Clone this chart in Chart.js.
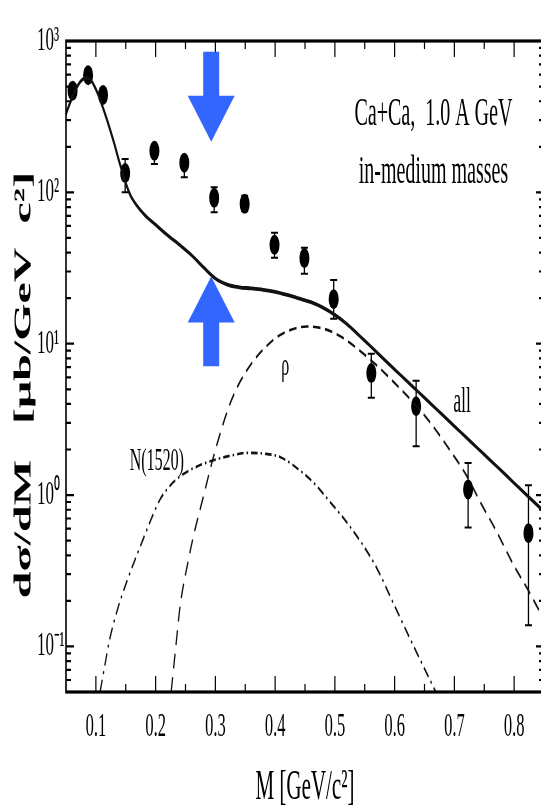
<!DOCTYPE html>
<html>
<head>
<meta charset="utf-8">
<script src="https://cdn.jsdelivr.net/npm/chart.js@4.4.1/dist/chart.umd.min.js"></script>
<style>
html, body { margin: 0; padding: 0; overflow: hidden; background: #fff; }
/* la figura original esta comprimida en horizontal: se dibuja ancha y se aplasta */
#wrap { width: 1100px; height: 809px; transform: scaleX(0.5); transform-origin: 0 0; }
</style>
</head>
<body>
<div id="wrap"><canvas id="grafico" width="1100" height="809"></canvas></div>
<script>
// Datos experimentales
const masas = [0.061, 0.087, 0.112, 0.149, 0.198, 0.248, 0.298, 0.349, 0.399, 0.449, 0.498, 0.561, 0.636, 0.723, 0.824];
const secciones = [470, 594, 440, 134, 188, 157, 92, 84, 45, 36.8, 19.7, 6.4, 3.86, 1.09, 0.56];
const errorAlto = [520, 650, 485, 166, 200, 170, 108, 95, 54, 43, 26.4, 8.6, 5.7, 1.63, 1.16];
const errorBajo = [425, 545, 400, 100, 154, 126, 74, 75, 37, 29, 14.6, 4.4, 2.1, 0.61, 0.138];

// Curva total "all"
const allX = [0.05, 0.06, 0.07, 0.08, 0.09, 0.10, 0.11, 0.12, 0.13, 0.14, 0.15, 0.16, 0.18, 0.20, 0.22, 0.24, 0.26, 0.28, 0.30, 0.32, 0.34, 0.36, 0.38, 0.40, 0.42, 0.44, 0.46, 0.48, 0.50, 0.52, 0.54, 0.56, 0.58, 0.60, 0.62, 0.64, 0.66, 0.68, 0.70, 0.72, 0.74, 0.76, 0.78, 0.80, 0.82, 0.85];
const allY = [330, 420, 510, 565, 560, 480, 380, 290, 215, 155, 115, 92, 72, 61, 52, 45, 38.5, 32, 27, 24.6, 23.6, 23.2, 22.7, 22, 21, 19.9, 18.8, 17.3, 15.5, 13.5, 11.4, 9.6, 8.04, 6.76, 5.69, 4.79, 4.03, 3.39, 2.85, 2.4, 2.02, 1.7, 1.43, 1.2, 1.01, 0.78];

// Curva rho (rayas)
const rhoX = [0.226, 0.235, 0.241, 0.255, 0.263, 0.28, 0.297, 0.325, 0.353, 0.397, 0.425, 0.453, 0.48, 0.509, 0.565, 0.60, 0.632, 0.66, 0.688, 0.72, 0.744, 0.77, 0.80, 0.825, 0.85];
const rhoY = [0.05, 0.111, 0.185, 0.375, 0.53, 0.98, 1.8, 4.06, 6.7, 10.6, 12.3, 13, 12.6, 11.2, 7.5, 5.5, 4.06, 3.0, 2.1, 1.35, 0.89, 0.58, 0.34, 0.23, 0.15];

// Curva N(1520) (raya-punto)
const n1520X = [0.107, 0.115, 0.123, 0.137, 0.151, 0.165, 0.179, 0.193, 0.207, 0.224, 0.241, 0.27, 0.297, 0.325, 0.353, 0.38, 0.409, 0.44, 0.465, 0.49, 0.52, 0.545, 0.57, 0.60, 0.632, 0.669];
const n1520Y = [0.05, 0.075, 0.111, 0.18, 0.263, 0.37, 0.51, 0.7, 0.93, 1.15, 1.33, 1.55, 1.7, 1.82, 1.9, 1.88, 1.78, 1.47, 1.2, 0.92, 0.66, 0.48, 0.33, 0.185, 0.1, 0.05];

// Ejes
const xTicks = [0.1, 0.2, 0.3, 0.4, 0.5, 0.6, 0.7, 0.8];
const xTickLabels = ['0.1', '0.2', '0.3', '0.4', '0.5', '0.6', '0.7', '0.8'];
const yTicks = [0.1, 1, 10, 100, 1000];
const yTickLabels = ['10⁻¹', '10⁰', '10¹', '10²', '10³'];

const tituloY = 'dσ/dM   [μb/GeV  c²]';
const tituloX = 'M [GeV/c²]';

// Textos sobre la grafica (posicion en unidades de datos)
const textos = [
    { t: 'Ca+Ca,  1.0 A GeV', x: 0.665, y: 325, size: 40 },
    { t: 'in-medium masses', x: 0.665, y: 135, size: 40 },
    { t: 'ρ', x: 0.417, y: 7.05, size: 32 },
    { t: 'all', x: 0.713, y: 4.08, size: 35 },
    { t: 'N(1520)', x: 0.202, y: 1.66, size: 32 }
];

// Flechas azules
const flechaX = 0.293;
const flechaBaja = [850, 216];
const flechaSube = [7.1, 27.8];

const juntar = (xs, ys) => xs.map((x, i) => ({ x: x, y: ys[i] }));

const extras = {
    id: 'extras',
    beforeDatasetsDraw(chart) {
        const { ctx, scales: { x, y } } = chart;
        ctx.save();
        ctx.strokeStyle = '#000';
        masas.forEach((m, i) => {
            const px = x.getPixelForValue(m);
            const y1 = y.getPixelForValue(errorAlto[i]);
            const y2 = y.getPixelForValue(errorBajo[i]);
            ctx.lineWidth = 2.6;
            ctx.beginPath();
            ctx.moveTo(px, y1); ctx.lineTo(px, y2);
            ctx.stroke();
            ctx.lineWidth = 2;
            ctx.beginPath();
            ctx.moveTo(px - 7, y1); ctx.lineTo(px + 7, y1);
            ctx.moveTo(px - 7, y2); ctx.lineTo(px + 7, y2);
            ctx.stroke();
        });
        ctx.restore();
    },
    afterDraw(chart) {
        const { ctx, chartArea: a, scales: { x, y } } = chart;
        ctx.save();
        // marco
        ctx.strokeStyle = '#000';
        ctx.lineWidth = 3.2;
        ctx.strokeRect(a.left, a.top, a.right - a.left, a.bottom - a.top);

        // marcas hacia dentro
        ctx.lineWidth = 2.4;
        ctx.beginPath();
        xTicks.forEach(v => {
            [v, v - 0.05].forEach((t, k) => {
                const px = x.getPixelForValue(t);
                const len = k === 0 ? 16 : 8;
                ctx.moveTo(px, a.bottom); ctx.lineTo(px, a.bottom - len);
                ctx.moveTo(px, a.top); ctx.lineTo(px, a.top + len);
            });
        });
        ctx.stroke();
        ctx.lineWidth = 2.2;
        ctx.beginPath();
        for (let d = 0.01; d <= 1000; d *= 10) {
            for (let k = 1; k < 10; k++) {
                const v = d * k;
                if (v < y.min || v > y.max) continue;
                const py = y.getPixelForValue(v);
                const len = k === 1 ? 16 : 10;
                ctx.moveTo(a.left, py); ctx.lineTo(a.left + len, py);
                ctx.moveTo(a.right, py); ctx.lineTo(a.right - len, py);
            }
        }
        ctx.stroke();

        // titulo eje y
        ctx.fillStyle = '#000';
        ctx.translate(49, 385);
        ctx.rotate(-Math.PI / 2);
        ctx.font = 'bold 48px "Liberation Serif"';
        ctx.textAlign = 'center';
        ctx.textBaseline = 'middle';
        ctx.fillText(tituloY, 0, 0);
        ctx.setTransform(1, 0, 0, 1, 0, 0);

        // textos
        textos.forEach(o => {
            ctx.font = o.size + 'px "Liberation Serif"';
            ctx.fillText(o.t, x.getPixelForValue(o.x), y.getPixelForValue(o.y));
        });

        // flechas
        ctx.fillStyle = '#3366ff';
        const cx = x.getPixelForValue(flechaX);
        const dibujaFlecha = (desde, hasta) => {
            const ya = y.getPixelForValue(desde);
            const yb = y.getPixelForValue(hasta);
            const dir = yb > ya ? 1 : -1;
            const base = yb - dir * 46;
            ctx.beginPath();
            ctx.moveTo(cx - 16, ya);
            ctx.lineTo(cx + 16, ya);
            ctx.lineTo(cx + 16, base);
            ctx.lineTo(cx + 47, base);
            ctx.lineTo(cx, yb);
            ctx.lineTo(cx - 47, base);
            ctx.lineTo(cx - 16, base);
            ctx.closePath();
            ctx.fill();
        };
        dibujaFlecha(flechaBaja[0], flechaBaja[1]);
        dibujaFlecha(flechaSube[0], flechaSube[1]);
        ctx.restore();
    }
};

new Chart(document.getElementById('grafico'), {
    type: 'scatter',
    data: {
        datasets: [
            {
                label: 'all',
                type: 'line',
                data: juntar(allX, allY),
                borderColor: '#111',
                borderWidth: 3.8,
                pointRadius: 0,
                tension: 0.35
            },
            {
                label: 'rho',
                type: 'line',
                data: juntar(rhoX, rhoY),
                borderColor: '#111',
                borderWidth: 2.6,
                borderDash: [15, 9],
                pointRadius: 0,
                cubicInterpolationMode: 'monotone'
            },
            {
                label: 'N(1520)',
                type: 'line',
                data: juntar(n1520X, n1520Y),
                borderColor: '#111',
                borderWidth: 2.6,
                borderDash: [13, 6, 3, 6],
                pointRadius: 0,
                cubicInterpolationMode: 'monotone'
            },
            {
                label: 'datos',
                data: juntar(masas, secciones),
                backgroundColor: '#000',
                borderWidth: 0,
                pointRadius: 10,
                pointHoverRadius: 10
            }
        ]
    },
    options: {
        responsive: false,
        devicePixelRatio: 1,
        animation: false,
        layout: { padding: { left: 74, top: 41, right: 12, bottom: 0 } },
        plugins: { legend: { display: false }, tooltip: { enabled: false } },
        scales: {
            x: {
                type: 'linear',
                min: 0.05,
                max: 0.85,
                grid: { display: false, drawTicks: false },
                border: { display: false },
                afterBuildTicks: s => { s.ticks = xTicks.map(v => ({ value: v })); },
                afterFit: s => { s.height = 117; },
                ticks: {
                    autoSkip: false,
                    maxRotation: 0,
                    padding: 16,
                    color: '#000',
                    font: { family: 'Liberation Serif', size: 33 },
                    callback: (v, i) => xTickLabels[i]
                },
                title: {
                    display: true,
                    text: tituloX,
                    color: '#000',
                    padding: { top: 0, bottom: 0 },
                    font: { family: 'Liberation Serif', size: 42, lineHeight: 1 }
                }
            },
            y: {
                type: 'logarithmic',
                min: 0.05,
                max: 1000,
                grid: { display: false, drawTicks: false },
                border: { display: false },
                afterBuildTicks: s => { s.ticks = yTicks.map(v => ({ value: v })); },
                afterFit: s => { s.width = 58; },
                ticks: {
                    autoSkip: false,
                    crossAlign: 'far',
                    color: '#000',
                    font: { family: 'Liberation Serif', size: 34 },
                    callback: (v, i) => yTickLabels[i]
                }
            }
        }
    },
    plugins: [extras]
});
</script>
</body>
</html>
